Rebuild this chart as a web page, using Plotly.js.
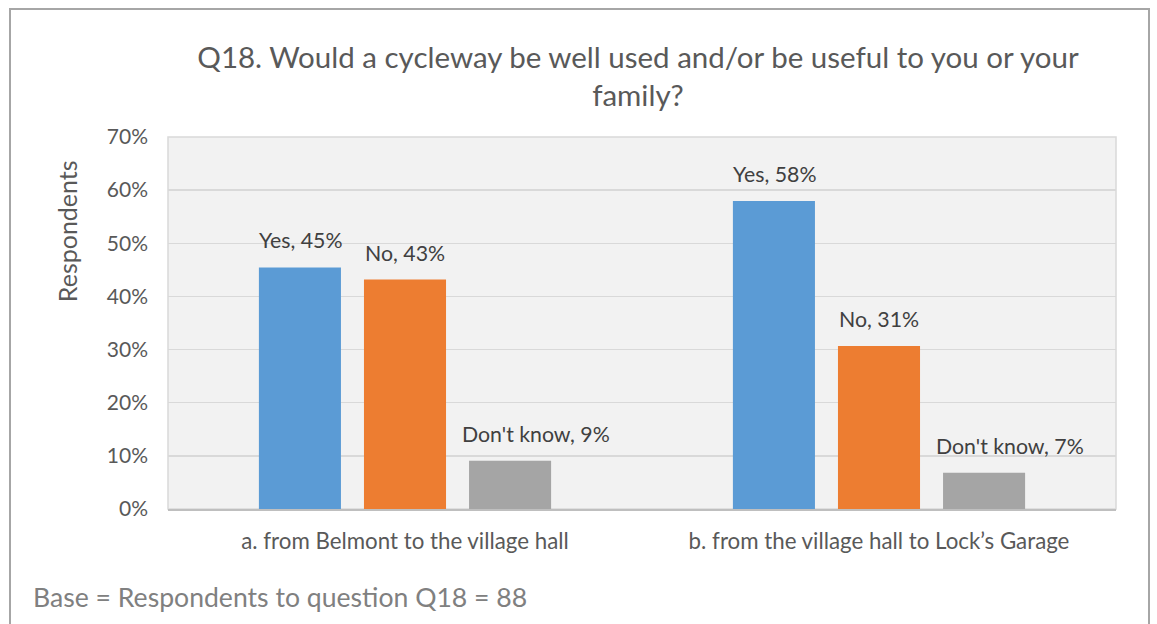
<!DOCTYPE html>
<html>
<head>
<meta charset="utf-8">
<script src="https://cdn.plot.ly/plotly-3.0.1.min.js"></script>
<style>html,body{margin:0;padding:0;background:#fff;}#chart{width:1157px;height:624px;}</style>
</head>
<body>
<div id="chart"></div>
<script>
const categories = ["a. from Belmont to the village hall", "b. from the village hall to Lock\u2019s Garage"];
const seriesNames = ["Yes", "No", "Don't know"];
const yesValues = [0.4545, 0.5795];
const noValues = [0.4318, 0.3068];
const dkValues = [0.0909, 0.0682];
const seriesValues = [yesValues, noValues, dkValues];
const seriesColors = ["#5b9bd5", "#ed7d31", "#a5a5a5"];
const labelShift = [-105, 0, 131];
const yTickVals = [0, 0.1, 0.2, 0.3, 0.4, 0.5, 0.6, 0.7];
const yTickText = ["0%", "10%", "20%", "30%", "40%", "50%", "60%", "70%"];

const FONT = "Lato, 'Open Sans', sans-serif";

const traces = seriesNames.map((name, i) => ({
  type: "bar",
  name: name,
  x: categories,
  y: seriesValues[i],
  marker: {color: seriesColors[i], line: {width: 0}},
  hoverinfo: "none"
}));

const annotations = [];
seriesNames.forEach((name, i) => {
  categories.forEach((cat, j) => {
    annotations.push({
      x: cat, y: seriesValues[i][j], xref: "x", yref: "y",
      text: name + ", " + Math.round(seriesValues[i][j] * 100) + "%",
      showarrow: false, xanchor: "center", yanchor: "bottom",
      xshift: labelShift[i], yshift: 12,
      font: {family: FONT, size: 21.3, color: "#404040"}
    });
  });
});
annotations.push({
  text: "Respondents", textangle: -90, xref: "paper", yref: "paper",
  x: -0.1065, y: 0.747, xanchor: "center", yanchor: "middle", showarrow: false,
  font: {family: FONT, size: 25, color: "#595959"}
});
annotations.push({
  text: "Base = Respondents to question Q18 = 88", xref: "paper", yref: "paper",
  x: -0.1445, y: -0.2366, xanchor: "left", yanchor: "middle", showarrow: false,
  font: {family: FONT, size: 26.6, color: "#808080"}
});

const layout = {
  width: 1157, height: 624,
  margin: {l: 168, r: 41, t: 137, b: 115, pad: 0},
  paper_bgcolor: "#ffffff",
  plot_bgcolor: "#f2f2f2",
  showlegend: false,
  barmode: "group",
  bargap: 0.335,
  bargroupgap: 0.219,
  title: {
    text: "Q18. Would a cycleway be well used and/or be useful to you or your<br>family?",
    x: 638 / 1157, xanchor: "center", xref: "container",
    y: 1 - 68 / 624, yanchor: "middle", yref: "container",
    font: {family: FONT, size: 29.5, color: "#595959"}
  },
  xaxis: {
    type: "category",
    showgrid: false, zeroline: false,
    showline: true, linecolor: "#bfbfbf", linewidth: 2,
    ticks: "", ticklabelstandoff: 11,
    tickfont: {family: FONT, size: 22.3, color: "#595959"},
    fixedrange: true
  },
  yaxis: {
    range: [0, 0.7],
    tickvals: yTickVals, ticktext: yTickText,
    showgrid: true, gridcolor: "#d9d9d9", gridwidth: 1.5,
    zeroline: false, showline: false,
    ticks: "", ticklabelstandoff: 19,
    tickfont: {family: FONT, size: 21, color: "#595959"},
    fixedrange: true
  },
  annotations: annotations,
  shapes: [
    {type: "rect", xref: "paper", yref: "paper", x0: 0, x1: 1, y0: 0, y1: 1,
     line: {color: "#d9d9d9", width: 1.5}, layer: "below"},
    {type: "rect", xref: "paper", yref: "paper",
     x0: (10 - 168) / 948, x1: (1149 - 168) / 948,
     y0: (509 - 640) / 372, y1: (509 - 9) / 372,
     line: {color: "#a6a6a6", width: 2}, fillcolor: "rgba(0,0,0,0)", layer: "above"}
  ]
};

Plotly.newPlot("chart", traces, layout, {displayModeBar: false, staticPlot: true});
</script>
</body>
</html>
